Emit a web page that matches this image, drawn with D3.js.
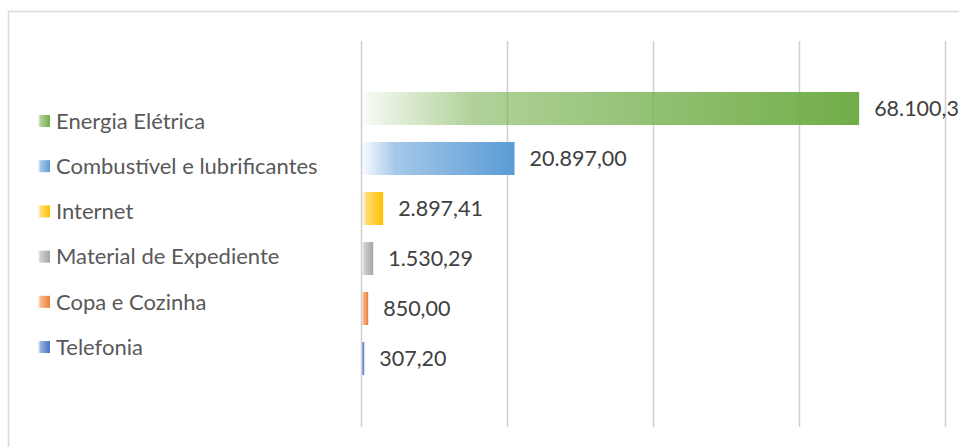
<!DOCTYPE html>
<html lang="pt">
	<head>
		<meta charset="utf-8">
		<title>Despesas</title>
		<script type="text/javascript" src="https://cdn.jsdelivr.net/npm/d3@7"></script>
		<style type="text/css">
			body { margin: 0; background: #fff; }
			.grid line { stroke: #d0d0d0; stroke-width: 1.5; }
			.grid path { display: none; }
			.legendLabel { font-family: Lato, sans-serif; font-size: 22px; fill: #595959; }
			.valueLabel { font-family: Lato, sans-serif; font-size: 21.5px; fill: #404040; }
		</style>
	</head>
	<body>
		<script type="text/javascript">

			//Data
			var categories = ["Energia Elétrica", "Combustível e lubrificantes", "Internet", "Material de Expediente", "Copa e Cozinha", "Telefonia"];
			var values = [68100.31, 20897.00, 2897.41, 1530.29, 850.00, 307.20];
			var colors = ["#70AD47", "#5B9BD5", "#FFC000", "#A5A5A5", "#ED7D31", "#4472C4"];
			var tickValues = [0, 20000, 40000, 60000, 80000];

			var w = 959;
			var h = 447;

			var br = d3.formatLocale({ decimal: ",", thousands: ".", grouping: [3], currency: ["R$", ""] });
			var fmt = br.format(",.2f");

			var svg = d3.select("body")
						.append("svg")
						.attr("width", w)
						.attr("height", h);

			//Chart frame
			svg.append("rect")
				.attr("x", 8.5)
				.attr("y", 11.5)
				.attr("width", w)
				.attr("height", h)
				.attr("fill", "#fff")
				.attr("stroke", "#d9d9d9")
				.attr("stroke-width", 1.5);

			//Gradients, one per series
			var defs = svg.append("defs");
			colors.forEach(function(c, i) {
				var g = defs.append("linearGradient")
							.attr("id", "grad" + i)
							.attr("x1", "0%").attr("x2", "100%")
							.attr("y1", "0%").attr("y2", "0%");
				g.append("stop").attr("offset", "0%").attr("stop-color", c).attr("stop-opacity", 0.04);
				g.append("stop").attr("offset", "22%").attr("stop-color", c).attr("stop-opacity", 0.55);
				g.append("stop").attr("offset", "100%").attr("stop-color", c).attr("stop-opacity", 1);
			});

			//Scales
			var xScale = d3.scaleLinear()
							.domain([0, 80000])
							.range([361, 945]);

			var yScale = d3.scaleBand()
							.domain(categories)
							.range([92, 375])
							.paddingInner(0.34)
							.paddingOuter(0);

			var legendScale = d3.scalePoint()
							.domain(categories)
							.range([121, 347]);

			//Gridlines
			var xAxis = d3.axisBottom(xScale)
							.tickValues(tickValues)
							.tickSize(-(427 - 41))
							.tickFormat("");

			svg.append("g")
				.attr("class", "grid")
				.attr("transform", "translate(0,427)")
				.call(xAxis);

			//Bars
			svg.selectAll("rect.bar")
				.data(categories)
				.enter()
				.append("rect")
				.attr("class", "bar")
				.attr("x", xScale(0) + 1)
				.attr("y", function(d) { return yScale(d); })
				.attr("width", function(d, i) { return xScale(values[i]) - xScale(0); })
				.attr("height", yScale.bandwidth())
				.attr("fill", function(d, i) { return "url(#grad" + i + ")"; });

			//Value labels
			svg.selectAll("text.valueLabel")
				.data(categories)
				.enter()
				.append("text")
				.attr("class", "valueLabel")
				.attr("x", function(d, i) { return xScale(values[i]) + 16; })
				.attr("y", function(d) { return yScale(d) + yScale.bandwidth() / 2; })
				.attr("dy", "0.35em")
				.text(function(d, i) { return fmt(values[i]); });

			//Legend
			var legend = svg.selectAll("g.legend")
				.data(categories)
				.enter()
				.append("g")
				.attr("class", "legend")
				.attr("transform", function(d) { return "translate(38," + legendScale(d) + ")"; });

			legend.append("rect")
				.attr("x", 0)
				.attr("y", -6)
				.attr("width", 12)
				.attr("height", 12)
				.attr("fill", function(d, i) { return "url(#grad" + i + ")"; });

			legend.append("text")
				.attr("class", "legendLabel")
				.attr("x", 18)
				.attr("y", 0)
				.attr("dy", "0.35em")
				.text(function(d) { return d; });

		</script>
	</body>
</html>
